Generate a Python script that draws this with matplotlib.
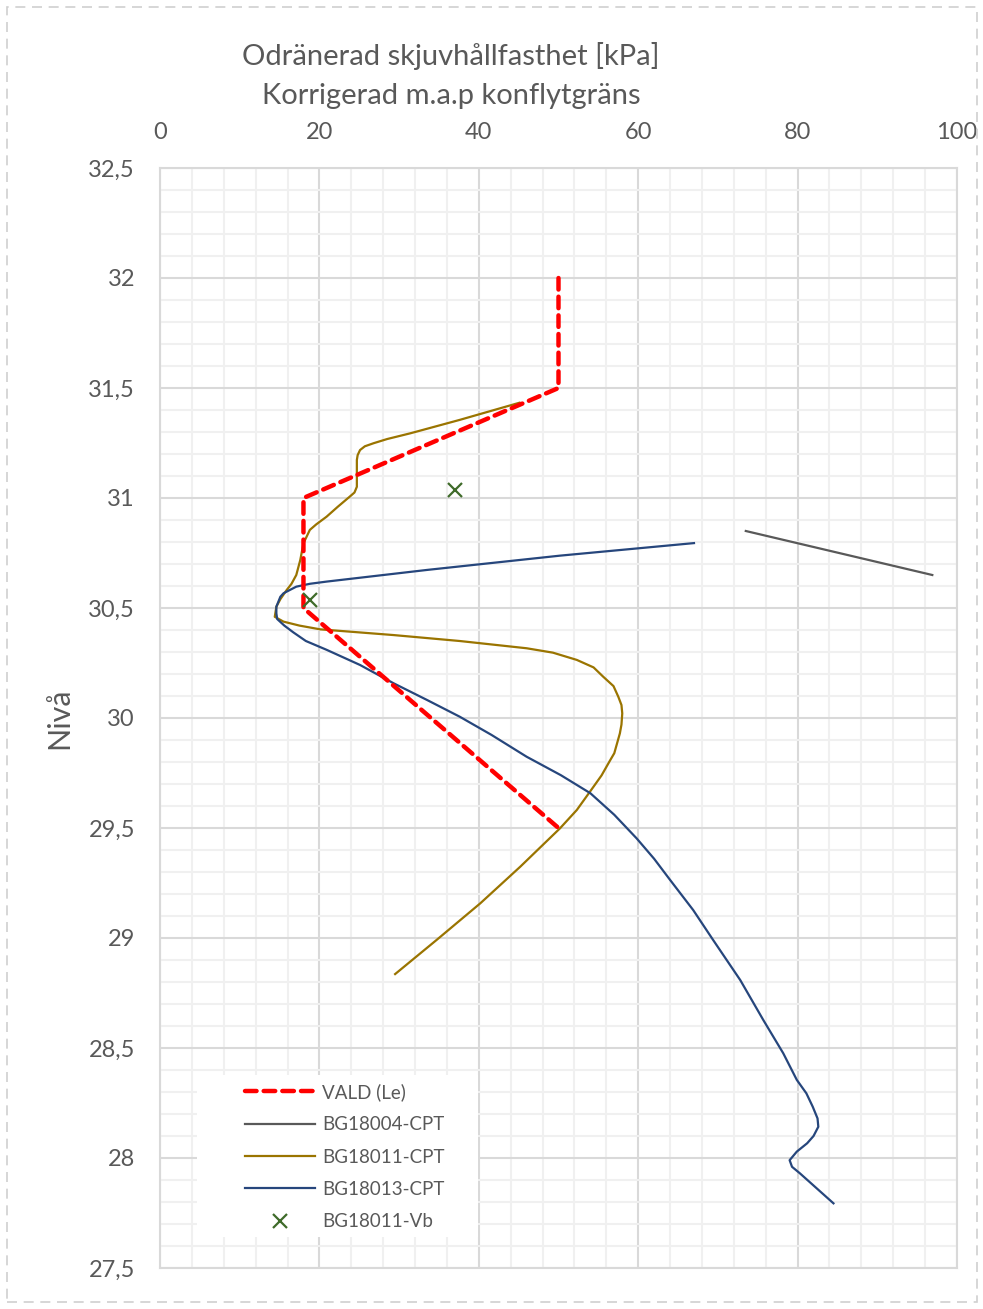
import matplotlib
matplotlib.use("Agg")
import matplotlib.pyplot as plt
from matplotlib.ticker import MultipleLocator, FuncFormatter
from matplotlib.patches import Rectangle

plt.rcParams['font.family'] = ['Lato', 'DejaVu Sans']

# ---- data ----
vald_x = [50, 50, 18, 18, 50]
vald_y = [32.0, 31.5, 31.0, 30.5, 29.5]

bg18004_x = [73.5, 96.9]
bg18004_y = [30.85, 30.65]

bg18011_x = [45.1, 37.6, 31.4, 28.5, 26.8, 25.7, 25.1, 24.8, 24.7, 24.7, 24.7, 24.4,
             23.8, 22.3, 20.9, 19.6, 18.8, 18.0, 17.6, 17.1, 16.5, 15.9, 15.1, 14.6,
             14.4, 15.5, 17.5, 20.1, 29.3, 37.6, 46.0, 49.3, 52.3, 54.4, 55.6, 56.9,
             57.5, 57.9, 58.0, 57.9, 57.7, 57.0, 56.5, 55.4, 54.4, 52.3, 50.2, 45.2,
             40.2, 34.7, 29.5]
bg18011_y = [31.433, 31.355, 31.294, 31.268, 31.249, 31.235, 31.218, 31.195, 31.173,
             31.112, 31.051, 31.025, 31.006, 30.960, 30.915, 30.880, 30.855, 30.794,
             30.718, 30.650, 30.610, 30.582, 30.540, 30.506, 30.460, 30.438, 30.420,
             30.403, 30.377, 30.350, 30.317, 30.297, 30.264, 30.230, 30.188, 30.145,
             30.097, 30.059, 30.021, 29.970, 29.930, 29.840, 29.809, 29.739, 29.688,
             29.582, 29.499, 29.324, 29.158, 28.991, 28.836]

bg18013_x = [67.0, 50.2, 33.5, 20.9, 18.8, 17.1, 15.5, 15.1, 14.6, 14.6, 14.7, 15.6,
             16.7, 18.3, 20.9, 25.1, 29.3, 33.5, 37.6, 41.6, 46.0, 50.3, 54.0, 57.0,
             59.8, 62.0, 64.0, 66.9, 69.4, 72.8, 75.7, 78.2, 79.9, 81.1, 81.9, 82.5,
             82.6, 82.0, 81.2, 79.9, 79.0, 79.3, 80.3, 82.4, 84.5]
bg18013_y = [30.795, 30.738, 30.673, 30.620, 30.610, 30.597, 30.567, 30.551, 30.506,
             30.476, 30.450, 30.420, 30.390, 30.350, 30.310, 30.241, 30.158, 30.082,
             30.006, 29.923, 29.824, 29.740, 29.658, 29.560, 29.453, 29.360, 29.264,
             29.127, 28.991, 28.809, 28.627, 28.476, 28.355, 28.294, 28.233, 28.180,
             28.142, 28.100, 28.067, 28.029, 27.990, 27.960, 27.930, 27.862, 27.794]

vb_x = [37.0, 18.8]
vb_y = [31.036, 30.536]

title_lines = ["Odränerad skjuvhållfasthet [kPa]", "Korrigerad m.a.p konflytgräns"]
ylabel = "Nivå"
labels = ["VALD (Le)", "BG18004-CPT", "BG18011-CPT", "BG18013-CPT", "BG18011-Vb"]

# ---- figure ----
W, H = 983, 1309
fig = plt.figure(figsize=(W / 100, H / 100), dpi=100)
txt = '#595959'

ax = fig.add_axes([160 / W, 1 - 1268 / H, (957 - 160) / W, (1268 - 168) / H])
ax.set_xlim(0, 100)
ax.set_ylim(27.5, 32.5)
ax.xaxis.set_major_locator(MultipleLocator(20))
ax.xaxis.set_minor_locator(MultipleLocator(4))
ax.yaxis.set_major_locator(MultipleLocator(0.5))
ax.yaxis.set_minor_locator(MultipleLocator(0.1))
ax.yaxis.set_major_formatter(FuncFormatter(lambda v, p: ('%g' % v).replace('.', ',')))
ax.xaxis.tick_top()
ax.tick_params(which='both', length=0)
ax.tick_params(axis='x', pad=18, labelsize=17, labelcolor=txt)
ax.tick_params(axis='y', pad=18, labelsize=17, labelcolor=txt)
ax.grid(which='minor', color='#f0f0f0', lw=1.5, zorder=0)
ax.grid(which='major', color='#d9d9d9', lw=1.5, zorder=0)
ax.set_axisbelow(True)
for s in ax.spines.values():
    s.set_color('#d9d9d9')
    s.set_linewidth(1.5)

ax.plot(vald_x, vald_y, color='#ff0000', lw=3.2, dashes=(2.6, 1.6),
        dash_capstyle='round', label=labels[0], zorder=5)
ax.plot(bg18004_x, bg18004_y, color='#595959', lw=1.6, label=labels[1], zorder=3)
ax.plot(bg18011_x, bg18011_y, color='#9a7400', lw=1.6, label=labels[2], zorder=3)
ax.plot(bg18013_x, bg18013_y, color='#26467c', lw=1.6, label=labels[3], zorder=4)
ax.plot(vb_x, vb_y, ls='none', marker='x', ms=10, mew=1.6, color='#3f6b2a',
        label=labels[4], zorder=6)

ax.set_ylabel(ylabel, fontsize=22, color=txt, labelpad=11)

# white legend panel
ax.add_patch(Rectangle(((197 - 160) / 797, (1268 - 1237) / 1100), (478 - 197) / 797,
                       (1237 - 1075) / 1100, transform=ax.transAxes, facecolor='white',
                       edgecolor='none', zorder=7))
leg = ax.legend(loc='upper left', bbox_to_anchor=((245 - 160) / 797, (1268 - 1083) / 1100),
                frameon=False, fontsize=13.5, handlelength=3.73, labelspacing=0.82,
                handletextpad=0.37, borderpad=0, borderaxespad=0)
leg.set_zorder(8)
for t in leg.get_texts():
    t.set_color(txt)

fig.text(451 / W, 1 - 56 / H, title_lines[0], ha='center', va='center', fontsize=21, color=txt)
fig.text(451 / W, 1 - 96 / H, title_lines[1], ha='center', va='center', fontsize=21, color=txt)

fig.patches.append(Rectangle((7 / W, 1 - 1302 / H), (977 - 7) / W, (1302 - 7) / H,
                             transform=fig.transFigure, fill=False, edgecolor='#d0d0d0',
                             lw=1.2, ls=(0, (6, 4))))

fig.savefig('out.png', dpi=100)
